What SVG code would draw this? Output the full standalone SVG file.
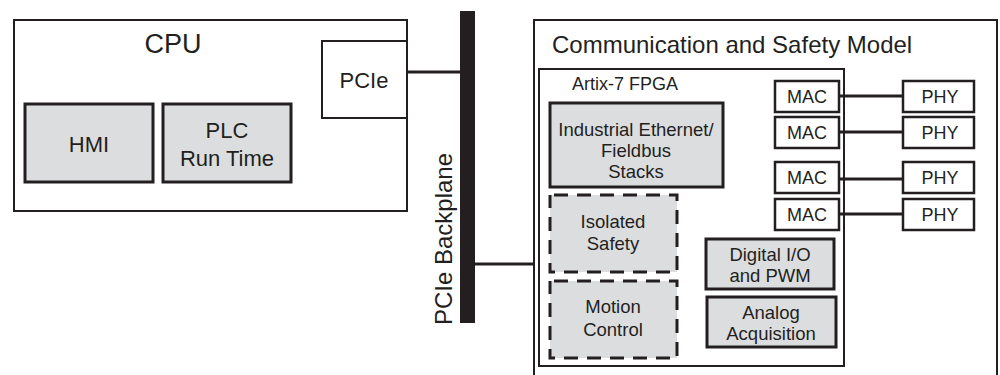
<svg xmlns="http://www.w3.org/2000/svg" width="1000" height="375" viewBox="0 0 1000 375">
  <style>
    .box { fill: #ffffff; stroke: #231f20; stroke-width: 2; }
    .blk { fill: #dcdddf; stroke: #231f20; stroke-width: 3; }
    .dash { fill: #dcdddf; stroke: #231f20; stroke-width: 3; stroke-dasharray: 14 9; stroke-dashoffset: -4; }
    .small { fill: #ffffff; stroke: #231f20; stroke-width: 2.5; }
    .wire { stroke: #231f20; stroke-width: 3; fill: none; }
    text { font-family: "Liberation Sans", Arial, sans-serif; fill: #231f20; text-anchor: middle; }
    .t27 { font-size: 27px; }
    .t24 { font-size: 24px; }
    .t22 { font-size: 22px; }
    .t18 { font-size: 18.5px; }
    .mac { font-size: 18px; }
  </style>

  <!-- CPU card -->
  <g id="cpu">
    <rect class="box" x="14" y="20" width="393" height="191"/>
    <text class="t27" x="173" y="53">CPU</text>
  </g>
  <g id="cpu-pcie">
    <rect class="box" x="322" y="41" width="85" height="77"/>
    <text class="t22" x="364" y="88">PCIe</text>
  </g>
  <g id="hmi">
    <rect class="blk" x="25" y="104" width="128" height="78"/>
    <text class="t22" x="89" y="152">HMI</text>
  </g>
  <g id="plc">
    <rect class="blk" x="163" y="104" width="128" height="78"/>
    <text class="t22" x="227" y="138">PLC</text>
    <text class="t22" x="227" y="166">Run Time</text>
  </g>

  <!-- Backplane bus -->
  <g id="backplane">
    <rect x="460" y="11" width="15" height="312" fill="#231f20"/>
    <text class="t24" transform="translate(452,239) rotate(-90)">PCIe Backplane</text>
  </g>

  <!-- Communication and safety module -->
  <g id="comm">
    <rect class="box" x="534" y="20" width="463" height="365"/>
    <text class="t24" x="552" y="53" style="text-anchor:start">Communication and Safety Model</text>
  </g>
  <g id="fpga">
    <rect class="box" x="539" y="69" width="305" height="297"/>
    <text class="mac" x="572" y="90" style="text-anchor:start">Artix-7 FPGA</text>
  </g>
  <g id="ethernet">
    <rect class="blk" x="550" y="103" width="173" height="84"/>
    <text class="t18" x="636" y="136">Industrial Ethernet/</text>
    <text class="t18" x="636" y="157">Fieldbus</text>
    <text class="t18" x="636" y="178">Stacks</text>
  </g>
  <g id="safety">
    <rect class="dash" x="550" y="195" width="127" height="77"/>
    <text class="t18" x="613" y="228">Isolated</text>
    <text class="t18" x="613" y="250">Safety</text>
  </g>
  <g id="motion">
    <rect class="dash" x="550" y="281" width="127" height="77"/>
    <text class="t18" x="613" y="313">Motion</text>
    <text class="t18" x="613" y="336">Control</text>
  </g>
  <g id="dio">
    <rect class="blk" x="706" y="239" width="128" height="50"/>
    <text class="t18" x="770" y="261">Digital I/O</text>
    <text class="t18" x="770" y="282">and PWM</text>
  </g>
  <g id="analog">
    <rect class="blk" x="707" y="297" width="129" height="50"/>
    <text class="t18" x="771" y="319">Analog</text>
    <text class="t18" x="771" y="340">Acquisition</text>
  </g>

  <g id="mac1"><rect class="small" x="775" y="81" width="64" height="31"/><text class="mac" x="807" y="103">MAC</text></g>
  <g id="mac2"><rect class="small" x="775" y="117" width="64" height="31"/><text class="mac" x="807" y="139">MAC</text></g>
  <g id="mac3"><rect class="small" x="775" y="162" width="64" height="31"/><text class="mac" x="807" y="184">MAC</text></g>
  <g id="mac4"><rect class="small" x="775" y="199" width="64" height="31"/><text class="mac" x="807" y="221">MAC</text></g>

  <g id="phy1"><rect class="small" x="903" y="81" width="71" height="31"/><text class="mac" x="940" y="103">PHY</text></g>
  <g id="phy2"><rect class="small" x="903" y="117" width="71" height="31"/><text class="mac" x="940" y="139">PHY</text></g>
  <g id="phy3"><rect class="small" x="903" y="162" width="71" height="31"/><text class="mac" x="940" y="184">PHY</text></g>
  <g id="phy4"><rect class="small" x="903" y="199" width="71" height="31"/><text class="mac" x="940" y="221">PHY</text></g>

  <!-- Connectors -->
  <g id="connectors">
    <line class="wire" x1="407" y1="72" x2="460" y2="72"/>
    <line class="wire" x1="475" y1="264" x2="534" y2="264"/>
    <line class="wire" x1="840" y1="96" x2="903" y2="96"/>
    <line class="wire" x1="840" y1="132" x2="903" y2="132"/>
    <line class="wire" x1="840" y1="179" x2="903" y2="179"/>
    <line class="wire" x1="840" y1="214" x2="903" y2="214"/>
  </g>
</svg>
